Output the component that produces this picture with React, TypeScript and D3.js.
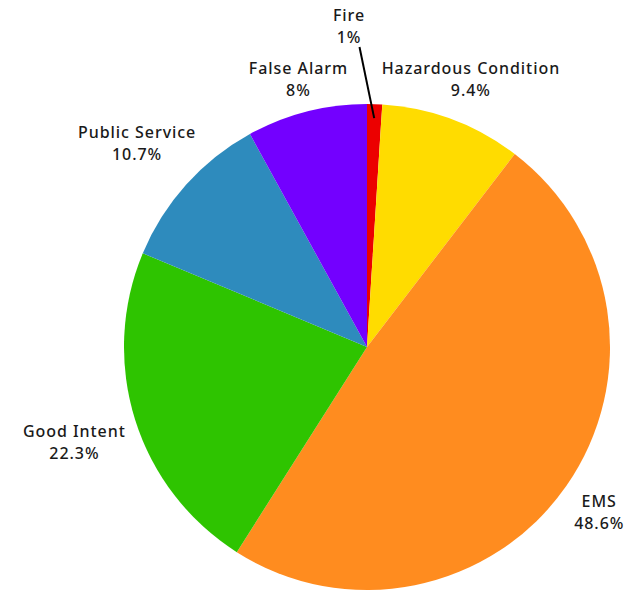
import React, { useRef, useEffect } from 'react';
import * as d3 from 'd3';

const W = 643;
const H = 591;

const categories = ['Fire', 'Hazardous Condition', 'EMS', 'Good Intent', 'Public Service', 'False Alarm'];
const percents = [1, 9.4, 48.6, 22.3, 10.7, 8];
const colors = ['#ec0000', '#ffdc00', '#ff8c1f', '#2ec400', '#2e8bbd', '#7300ff'];

// label nudges (layout only), to keep labels clear of each other
const labelNudge: [number, number][] = [[0, 0], [-19, -6], [-2, 5], [4, 11], [7, -17], [8, 3]];

type Slice = { name: string; value: number; color: string };

export default function App() {
    const svgRef = useRef<SVGSVGElement>(null);

    useEffect(() => {
        const svg = d3.select(svgRef.current);
        svg.selectAll('*').remove();

        const data: Slice[] = categories.map((name, i) => ({ name, value: percents[i], color: colors[i] }));

        const cx = 367;
        const cy = 347;
        const r = 243;

        const g = svg.append('g').attr('transform', `translate(${cx},${cy})`);

        const pie = d3.pie<Slice>().value(d => d.value).sort(null);
        const arcs = pie(data);
        const arc = d3.arc<d3.PieArcDatum<Slice>>().innerRadius(0).outerRadius(r);

        g.selectAll('path')
            .data(arcs)
            .join('path')
            .attr('d', arc)
            .attr('fill', d => d.data.color);

        const font = '"Noto Sans", sans-serif';
        const fs = 16;
        const ls = 0.95;
        const lh = 22;
        const labelR = r + 17;

        arcs.forEach((a, i) => {
            const mid = (a.startAngle + a.endAngle) / 2;
            const sx = Math.sin(mid);
            const sy = -Math.cos(mid);
            const t = g.append('text')
                .attr('font-family', font)
                .attr('font-size', fs)
                .attr('font-weight', 500)
                .attr('letter-spacing', ls)
                .attr('fill', '#1a1a1a')
                .attr('text-anchor', 'middle');
            t.append('tspan').attr('x', ls / 2).attr('dy', 0).text(a.data.name);
            t.append('tspan').attr('x', ls / 2).attr('dy', lh).text(`${a.data.value}%`);

            const bb = (t.node() as SVGTextElement).getBBox();
            const w = bb.width;
            const h = 40;

            let lx: number;
            let ly: number;
            if (a.data.value < 3) {
                // small slice: label pulled up, joined by a leader line
                lx = -18.5;
                ly = -321;
                const ix = sx * (r - 14);
                const iy = sy * (r - 14);
                g.append('line')
                    .attr('x1', lx + 11).attr('y1', ly + 21)
                    .attr('x2', ix).attr('y2', iy)
                    .attr('stroke', '#000').attr('stroke-width', 2);
            } else {
                lx = sx * labelR + sx * w / 2 + labelNudge[i][0];
                ly = sy * labelR + sy * h / 2 + labelNudge[i][1];
            }
            // ly is the block center; first baseline sits above it
            t.attr('transform', `translate(${lx},${ly - lh / 2 + fs * 0.36})`);
        });
    }, []);

    return (
        <svg ref={svgRef} width={W} height={H} style={{ position: 'absolute', left: 0, top: 0, background: '#fff' }} />
    );
}
